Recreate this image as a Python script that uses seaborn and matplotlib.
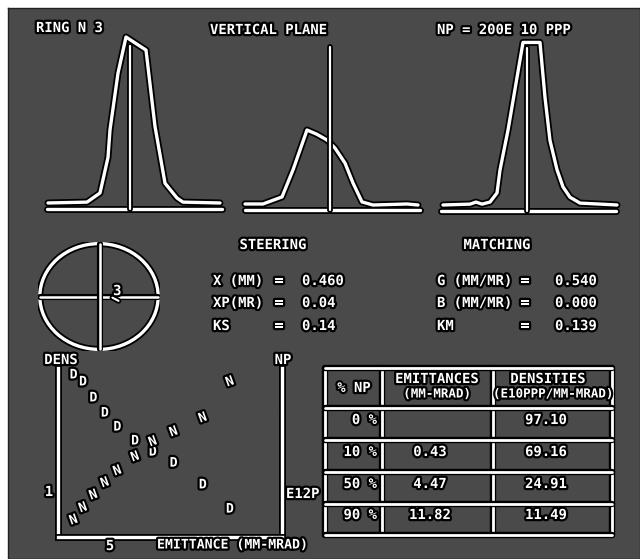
import matplotlib
matplotlib.use("Agg")
import matplotlib.pyplot as plt
import matplotlib.patheffects as pe
from matplotlib.patches import Ellipse
import numpy as np
import pandas as pd
import seaborn as sns

# ---------------- data ----------------
# beam profiles: wire position (channel units) and amplitude (% of peak scale)
prof1_pos = [0.2, 8.0, 10.6, 12.2, 12.6, 14.2, 15.8, 19.8, 21.6, 23.6, 26.0, 27.2, 34.6]
prof1_amp = [3.5, 4.0, 9.3, 30.0, 46.0, 79.0, 100.0, 92.4, 48.0, 15.0, 6.4, 4.0, 3.5]
prof1_centre = 16.6

prof2_pos = [0.0, 3.6, 7.4, 9.6, 12.4, 14.4, 16.4, 18.0, 20.0, 21.6, 23.4, 25.6, 32.4, 34.6]
prof2_amp = [3.5, 3.5, 7.6, 23.3, 46.5, 44.0, 40.7, 36.0, 27.3, 15.7, 4.7, 2.9, 3.5, 2.9]
prof2_centre = 17.0

prof3_pos = [0.4, 5.8, 7.0, 8.2, 9.8, 11.2, 11.8, 13.4, 16.4, 19.8, 20.8, 21.8, 23.2, 24.4, 25.8, 27.8, 35.2]
prof3_amp = [3.5, 4.0, 5.2, 4.0, 5.2, 10.5, 23.8, 47.0, 98.0, 98.0, 66.0, 41.0, 24.0, 14.0, 8.0, 4.6, 3.5]
prof3_centre = 17.2

steer_labels = ["X (MM)", "XP(MR)", "KS"]
steer_values = ["0.460", "0.04", "0.14"]
match_labels = ["G (MM/MR)", "B (MM/MR)", "KM"]
match_values = ["0.540", "0.000", "0.139"]

# emittance / density / particle number curves
emit_pts = [1.5, 2.4, 3.4, 4.5, 5.7, 7.4, 9.1, 11.1, 13.9, 16.5]
dens_pts = [3.95, 3.78, 3.39, 3.02, 2.68, 2.34, 2.07, 1.80, 1.27, 0.68]
np_pts = [0.41, 0.71, 1.02, 1.32, 1.61, 1.95, 2.32, 2.56, 2.90, 3.78]

# summary table
table_pct = ["0 %", "10 %", "50 %", "90 %"]
table_emit = ["", "0.43", "4.47", "11.82"]
table_dens = ["97.10", "69.16", "24.91", "11.49"]

# ---------------- style ----------------
W, H = 640, 559
BG = "#4a4a4a"
FONT = "DejaVu Sans Mono"
sns.set_theme(style="white")
plt.rcParams["font.family"] = [FONT, "DejaVu Sans"]

glow_txt = [pe.withStroke(linewidth=3.2, foreground="black")]


def glow_line(lw):
    return [pe.Stroke(linewidth=lw + 2.6, foreground="black"), pe.Normal()]


fig = plt.figure(figsize=(W / 100, H / 100), dpi=100, facecolor="white")


def px_axes(left, top, right, bottom, z=1):
    ax = fig.add_axes([left / W, 1 - bottom / H, (right - left) / W, (bottom - top) / H], zorder=z)
    ax.set_facecolor("none")
    return ax


def ftext(x, y, s, size=10, ha="left", va="center", **kw):
    fig.text(x / W, 1 - y / H, s, color="white", fontsize=size, fontweight="bold",
             family=FONT, ha=ha, va=va, path_effects=glow_txt, **kw)


# screen background
bg = px_axes(8, 8, W, H, z=0)
bg.set_facecolor(BG)
bg.set_xticks([]); bg.set_yticks([])
for s in bg.spines.values():
    s.set_color("#222222"); s.set_linewidth(1)

# ---------------- profiles ----------------
profiles = [
    (47, 209, prof1_pos, prof1_amp, prof1_centre),
    (245, 210, prof2_pos, prof2_amp, prof2_centre),
    (441, 211, prof3_pos, prof3_amp, prof3_centre),
]
for left, base, pos, amp, centre in profiles:
    ax = px_axes(left, base - 172, left + 175, base, z=2)
    df = pd.DataFrame({"pos": pos, "amp": amp})
    sns.lineplot(data=df, x="pos", y="amp", ax=ax, color="white", lw=2.4,
                 estimator=None, sort=False, clip_on=False)
    for ln in ax.lines:
        ln.set_path_effects(glow_line(2.4))
    ax.axhline(0, color="white", lw=2.4, clip_on=False, path_effects=glow_line(2.4))
    ax.plot([centre, centre], [0, 95], color="white", lw=1.6, clip_on=False,
            path_effects=glow_line(1.6))
    ax.set_xlim(0, 35)
    ax.set_ylim(0, 100)
    ax.axis("off")

ftext(36, 28, "RING N 3")
ftext(210, 30, "VERTICAL PLANE")
ftext(437, 30, "NP = 200E 10 PPP")

# ---------------- beam position circle ----------------
cax = px_axes(38, 242, 160, 351, z=2)
cax.set_xlim(-1, 1); cax.set_ylim(-1, 1)
cax.add_patch(Ellipse((0, 0), 1.94, 1.94, fill=False, ec="white", lw=2.4,
                      path_effects=glow_line(2.4)))
cax.axhline(0, xmin=0.02, xmax=0.98, color="white", lw=1.8, path_effects=glow_line(1.8))
cax.axvline(0.02, ymin=0.02, ymax=0.98, color="white", lw=1.8, path_effects=glow_line(1.8))
cax.plot([0.22, 0.32], [-0.02, -0.08], color="white", lw=1.5, path_effects=glow_line(1.5))
cax.text(0.3, 0.1, "3", color="white", fontsize=10, fontweight="bold", ha="center",
         va="center", path_effects=glow_txt)
cax.axis("off")

# ---------------- steering / matching ----------------
ftext(273, 245, "STEERING", ha="center")
ftext(497, 245, "MATCHING", ha="center")
rows_y = [281, 303, 326]
for y, lab, val in zip(rows_y, steer_labels, steer_values):
    ftext(213, y, lab)
    ftext(279, y, "=", ha="center")
    ftext(302, y, val)
for y, lab, val in zip(rows_y, match_labels, match_values):
    ftext(437, y, lab)
    ftext(525, y, "=", ha="center")
    ftext(555, y, val)

# ---------------- emittance / density plot ----------------
sax = px_axes(58, 368, 282, 537, z=2)
sax.set_xlim(0, 21.5)
sax.set_ylim(0, 4.12)
for x, y in zip(emit_pts, dens_pts):
    sax.text(x, y, "D", color="white", fontsize=9.5, fontweight="bold", ha="center",
             va="center", path_effects=glow_txt)
for x, y in zip(emit_pts, np_pts):
    sax.text(x, y, "N", color="white", fontsize=9.5, fontweight="bold", ha="center",
             va="center", rotation=20, path_effects=glow_txt)
sax.spines["top"].set_visible(False)
for side in ["left", "right", "bottom"]:
    sp = sax.spines[side]
    sp.set_visible(True)
    sp.set_color("white")
    sp.set_linewidth(2.4)
    sp.set_path_effects(glow_line(2.4))
sax.set_xticks([5])
sax.set_yticks([1, 2, 3])
sax.tick_params(axis="both", which="both", direction="inout", length=5, width=2.2,
                color="white", labelleft=False, labelbottom=False, left=True,
                right=True, bottom=True)
ftext(49, 492, "1", ha="center")
ftext(110, 546, "5", ha="center")
ftext(286, 494, "E12P")
ftext(61, 360, "DENS", ha="center")
ftext(283, 360, "NP", ha="center")
ftext(157, 545, "EMITTANCE (MM-MRAD)", size=9.5)

# ---------------- summary table ----------------
tax = px_axes(325, 368, 612, 535, z=2)
tax.set_xlim(325, 612)
tax.set_ylim(535, 368)
col_edges = [325, 382, 493, 612]
row_edges = [368, 408, 440, 472, 504, 535]
for xe in col_edges:
    tax.plot([xe, xe], [row_edges[0], row_edges[-1]], color="white", lw=2.0,
             clip_on=False, path_effects=glow_line(2.0))
for ye in row_edges:
    tax.plot([col_edges[0], col_edges[-1]], [ye, ye], color="white", lw=2.0,
             clip_on=False, path_effects=glow_line(2.0))
tax.axis("off")

ftext(354, 388, "% NP", ha="center")
ftext(437, 379, "EMITTANCES", ha="center")
ftext(437, 394, "(MM-MRAD)", ha="center", size=9)
ftext(548, 379, "DENSITIES", ha="center")
ftext(553, 394, "(E10PPP/MM-MRAD)", ha="center", size=9)
row_y = [420, 452, 484, 515]
for y, p, e, d in zip(row_y, table_pct, table_emit, table_dens):
    ftext(377, y, p, ha="right")
    ftext(430, y, e, ha="center")
    ftext(546, y, d, ha="center")

fig.savefig("out.png", dpi=100, facecolor=fig.get_facecolor())
